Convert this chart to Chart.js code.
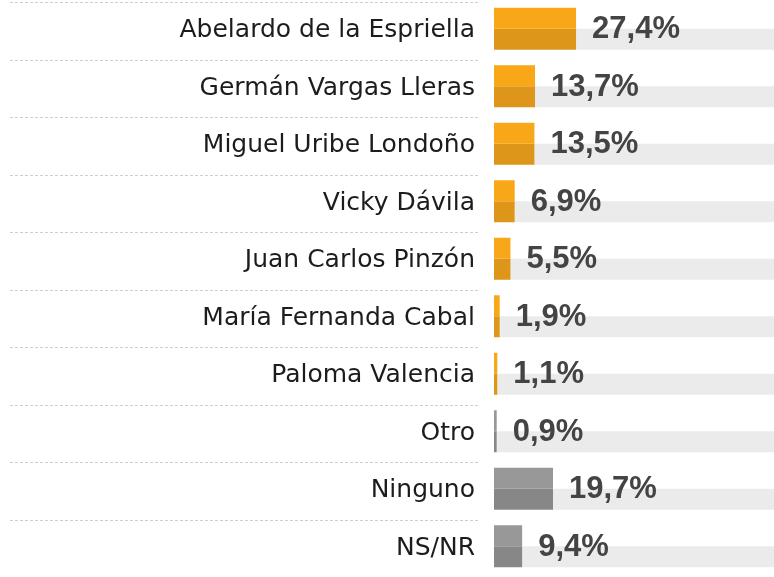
<!DOCTYPE html>
<html lang="es">
  <head>
    <meta charset="utf-8">
    <title>Intención de voto</title>
    <style>
      html, body { margin: 0; padding: 0; background: #ffffff; }
      #wrap { width: 774px; height: 577px; position: relative; }
    </style>
  </head>
  <body>
    <div id="wrap"><canvas id="chart"></canvas></div>
    <script src="https://cdn.jsdelivr.net/npm/chart.js"></script>
    <script>
      let candidates = [
        "Abelardo de la Espriella",
        "Germán Vargas Lleras",
        "Miguel Uribe Londoño",
        "Vicky Dávila",
        "Juan Carlos Pinzón",
        "María Fernanda Cabal",
        "Paloma Valencia",
        "Otro",
        "Ninguno",
        "NS/NR",
      ];
      let shares = [27.4, 13.7, 13.5, 6.9, 5.5, 1.9, 1.1, 0.9, 19.7, 9.4];
      let axisMax = 93.5;

      // first seven rows are candidates (orange), the rest grey
      let isCandidate = function (i) { return i < 7; };
      let topColors = shares.map((v, i) => (isCandidate(i) ? "#f8a719" : "#989898"));
      let bottomColors = shares.map((v, i) => (isCandidate(i) ? "#dd9619" : "#878787"));
      let track = shares.map((v) => axisMax - v);

      // dashed separators between rows, taken from the category scale
      let separators = {
        id: "separators",
        beforeDatasetsDraw(chart) {
          let ctx = chart.ctx;
          let y = chart.scales.y;
          let step = (chart.chartArea.bottom - chart.chartArea.top) / candidates.length;
          ctx.save();
          ctx.strokeStyle = "#cfcfcf";
          ctx.lineWidth = 1;
          ctx.setLineDash([3, 2]);
          for (let i = 0; i < candidates.length; i++) {
            let py = Math.round(y.getPixelForValue(i) - step / 2 + 2) + 0.5;
            ctx.beginPath();
            ctx.moveTo(10, py);
            ctx.lineTo(478, py);
            ctx.stroke();
          }
          ctx.restore();
        },
      };

      let valueLabels = {
        id: "valueLabels",
        afterDatasetsDraw(chart) {
          let ctx = chart.ctx;
          let meta = chart.getDatasetMeta(0);
          let metaLow = chart.getDatasetMeta(1);
          ctx.save();
          ctx.font = "bold 31px 'Liberation Sans'";
          ctx.fillStyle = "#444444";
          ctx.textAlign = "left";
          ctx.textBaseline = "middle";
          meta.data.forEach((bar, i) => {
            let low = metaLow.data[i];
            let cy = (bar.y + low.y) / 2 + 1;
            ctx.fillText(shares[i].toFixed(1).replace(".", ",") + "%", bar.x + 16, cy);
          });
          ctx.restore();
        },
      };

      new Chart(document.getElementById("chart"), {
        type: "bar",
        data: {
          labels: candidates,
          datasets: [
            {
              label: "top",
              data: shares,
              stack: "top",
              backgroundColor: topColors,
              borderWidth: 0,
            },
            {
              label: "bottom",
              data: shares,
              stack: "bottom",
              backgroundColor: bottomColors,
              borderWidth: 0,
            },
            {
              label: "track",
              data: track,
              stack: "bottom",
              backgroundColor: "#ebebeb",
              borderWidth: 0,
            },
          ],
        },
        options: {
          indexAxis: "y",
          responsive: true,
          maintainAspectRatio: false,
          animation: false,
          categoryPercentage: 42 / 57.5,
          barPercentage: 1,
          layout: { padding: { top: 0, bottom: 2, left: 0, right: 0 } },
          plugins: {
            legend: { display: false },
            tooltip: { enabled: false },
          },
          scales: {
            x: {
              stacked: true,
              min: 0,
              max: axisMax,
              display: false,
            },
            y: {
              stacked: true,
              grid: { display: false, drawTicks: false },
              border: { display: false },
              afterFit(scale) {
                scale.width = 494;
                scale.paddingTop = 0;
                scale.paddingBottom = 0;
              },
              ticks: {
                padding: 19,
                labelOffset: 2,
                color: "#1c1c1c",
                font: { family: "'DejaVu Sans'", size: 25 },
              },
            },
          },
        },
        plugins: [separators, valueLabels],
      });
    </script>
  </body>
</html>
